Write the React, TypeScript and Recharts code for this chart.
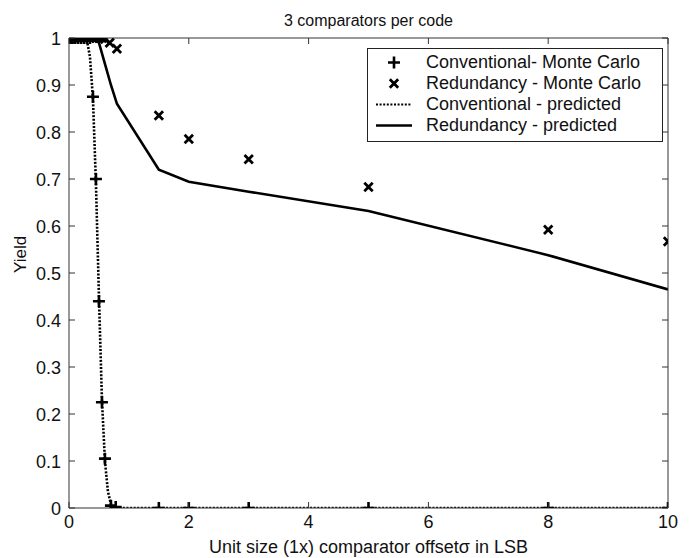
import React from 'react';
import { ComposedChart, Line, Scatter, XAxis, YAxis } from 'recharts';

const titleText = '3 comparators per code';
const xLabelText = 'Unit size (1x) comparator offsetσ in LSB';
const yLabelText = 'Yield';

const xTicks = [0, 2, 4, 6, 8, 10];
const yTicks = [0, 0.1, 0.2, 0.3, 0.4, 0.5, 0.6, 0.7, 0.8, 0.9, 1];

const convMcSigma = [0.03, 0.06, 0.1, 0.15, 0.2, 0.25, 0.3, 0.35, 0.4, 0.45, 0.5, 0.55, 0.6, 0.7, 0.78, 1.5, 2, 3, 5, 8, 10];
const convMcYield = [1, 1, 1, 1, 1, 1, 1, 1, 0.875, 0.7, 0.44, 0.225, 0.105, 0.005, 0.002, 0, 0, 0, 0, 0, 0];

const redMcSigma = [0.03, 0.06, 0.1, 0.15, 0.2, 0.25, 0.3, 0.35, 0.4, 0.45, 0.5, 0.55, 0.6, 0.68, 0.8, 1.5, 2, 3, 5, 8, 10];
const redMcYield = [1, 1, 1, 1, 1, 1, 1, 1, 1, 1, 1, 1, 0.998, 0.99, 0.977, 0.835, 0.785, 0.742, 0.683, 0.592, 0.567];

const convPredSigma = [0, 0.1, 0.2, 0.3, 0.35, 0.4, 0.45, 0.5, 0.55, 0.6, 0.65, 0.7, 0.75, 0.8, 1, 2, 3, 5, 8, 10];
const convPredYield = [1, 1, 1, 0.995, 0.96, 0.87, 0.69, 0.45, 0.23, 0.1, 0.035, 0.008, 0.001, 0, 0, 0, 0, 0, 0, 0];

const redPredSigma = [0, 0.2, 0.4, 0.5, 0.6, 0.7, 0.8, 1.5, 2, 3, 5, 8, 10];
const redPredYield = [1, 1, 1, 0.99, 0.945, 0.9, 0.86, 0.72, 0.694, 0.673, 0.632, 0.538, 0.465];

const legendLabels = [
  'Conventional- Monte Carlo',
  'Redundancy - Monte Carlo',
  'Conventional - predicted',
  'Redundancy - predicted',
];

const zip = (xs: number[], ys: number[]) => xs.map((x, i) => ({ x, y: ys[i] }));
const convMc = zip(convMcSigma, convMcYield);
const redMc = zip(redMcSigma, redMcYield);
const convPred = zip(convPredSigma, convPredYield);
const redPred = zip(redPredSigma, redPredYield);

const FONT = 'Arial, "Liberation Sans", Helvetica, sans-serif';
const TICK = 6;

const PlusShape = (props: any) => {
  const { cx, cy } = props;
  if (cx == null || cy == null) return null;
  return (
    <path d={`M${cx - 6},${cy}H${cx + 6}M${cx},${cy - 6}V${cy + 6}`} stroke="#000" strokeWidth={2.6} fill="none" />
  );
};

const CrossShape = (props: any) => {
  const { cx, cy } = props;
  if (cx == null || cy == null) return null;
  const s = 4.2;
  return (
    <path d={`M${cx - s},${cy - s}L${cx + s},${cy + s}M${cx - s},${cy + s}L${cx + s},${cy - s}`} stroke="#000" strokeWidth={2.8} fill="none" />
  );
};

const NoShape = () => <g />;

const BottomTick = (props: any) => {
  const { x, y, payload } = props;
  return (
    <g>
      <line x1={x} x2={x} y1={y} y2={y - TICK} stroke="#333" strokeWidth={1} />
      <text x={x} y={y + 20} textAnchor="middle" fontFamily={FONT} fontSize={18} fill="#111">{payload.value}</text>
    </g>
  );
};

const LeftTick = (props: any) => {
  const { x, y, payload } = props;
  return (
    <g>
      <line x1={x} x2={x + TICK} y1={y} y2={y} stroke="#333" strokeWidth={1} />
      <text x={x - 8} y={y + 6.5} textAnchor="end" fontFamily={FONT} fontSize={18} fill="#111">{payload.value}</text>
    </g>
  );
};

const TopTick = (props: any) => {
  const { x, y } = props;
  return <line x1={x} x2={x} y1={y} y2={y + TICK} stroke="#333" strokeWidth={1} />;
};

const RightTick = (props: any) => {
  const { x, y } = props;
  return <line x1={x} x2={x - TICK} y1={y} y2={y} stroke="#333" strokeWidth={1} />;
};

const LegendBox = () => (
  <div
    style={{
      position: 'absolute',
      left: 367,
      top: 48,
      width: 296,
      background: '#fff',
      border: '1px solid #222',
      padding: '3px 0 5px 0',
      fontFamily: FONT,
      fontSize: 18,
      color: '#111',
      boxSizing: 'border-box',
    }}
  >
    {legendLabels.map((label, i) => (
      <div key={label} style={{ display: 'flex', alignItems: 'center', height: 21 }}>
        <svg width={52} height={21} style={{ flex: 'none' }}>
          {i === 0 && <PlusShape cx={26} cy={10.5} />}
          {i === 1 && <CrossShape cx={26} cy={10.5} />}
          {i === 2 && <line x1={8} x2={44} y1={10.5} y2={10.5} stroke="#000" strokeWidth={2} strokeDasharray="2 1.6" />}
          {i === 3 && <line x1={8} x2={44} y1={10.5} y2={10.5} stroke="#000" strokeWidth={2.5} />}
        </svg>
        <span style={{ marginLeft: 6, whiteSpace: 'nowrap' }}>{label}</span>
      </div>
    ))}
  </div>
);

export default function App() {
  return (
    <div style={{ position: 'absolute', left: 0, top: 0, width: 691, height: 558, background: '#fff' }}>
      <ComposedChart width={691} height={558} margin={{ top: 37, right: 22, bottom: 0, left: 0 }}>
        <XAxis
          xAxisId="b"
          dataKey="x"
          type="number"
          domain={[0, 10]}
          ticks={xTicks}
          interval={0}
          height={50}
          tickSize={0}
          tickMargin={0}
          tickLine={false}
          axisLine={{ stroke: '#333', strokeWidth: 1 }}
          tick={<BottomTick />}
          allowDataOverflow
          label={{ value: xLabelText, position: 'insideBottom', offset: 5, fontFamily: FONT, fontSize: 18, fill: '#111' }}
        />
        <XAxis
          xAxisId="t"
          orientation="top"
          dataKey="x"
          type="number"
          domain={[0, 10]}
          ticks={xTicks}
          interval={0}
          height={1}
          tickSize={0}
          tickMargin={0}
          tickLine={false}
          axisLine={{ stroke: '#333', strokeWidth: 1 }}
          tick={<TopTick />}
          allowDataOverflow
        />
        <YAxis
          yAxisId="l"
          type="number"
          domain={[0, 1]}
          ticks={yTicks}
          interval={0}
          width={69}
          tickSize={0}
          tickMargin={0}
          tickLine={false}
          axisLine={{ stroke: '#333', strokeWidth: 1 }}
          tick={<LeftTick />}
          allowDataOverflow
          label={{ value: yLabelText, angle: -90, position: 'insideLeft', offset: 20, fontFamily: FONT, fontSize: 17, fill: '#111' }}
        />
        <YAxis
          yAxisId="r"
          orientation="right"
          type="number"
          domain={[0, 1]}
          ticks={yTicks}
          interval={0}
          width={1}
          tickSize={0}
          tickMargin={0}
          tickLine={false}
          axisLine={{ stroke: '#333', strokeWidth: 1 }}
          tick={<RightTick />}
          allowDataOverflow
        />
        <Line
          xAxisId="b"
          yAxisId="l"
          data={convPred}
          dataKey="y"
          type="linear"
          stroke="#000"
          strokeWidth={2.6}
          strokeDasharray="2 1.6"
          dot={false}
          activeDot={false}
          isAnimationActive={false}
        />
        <Line
          xAxisId="b"
          yAxisId="l"
          data={redPred}
          dataKey="y"
          type="linear"
          stroke="#000"
          strokeWidth={2.6}
          dot={false}
          activeDot={false}
          isAnimationActive={false}
        />
        <Scatter xAxisId="t" yAxisId="r" data={redPred} dataKey="y" shape={<NoShape />} isAnimationActive={false} />
        <Scatter xAxisId="b" yAxisId="l" data={convMc} dataKey="y" shape={<PlusShape />} isAnimationActive={false} />
        <Scatter xAxisId="b" yAxisId="l" data={redMc} dataKey="y" shape={<CrossShape />} isAnimationActive={false} />
      </ComposedChart>
      <div
        style={{
          position: 'absolute',
          left: 69,
          width: 599,
          top: 11,
          textAlign: 'center',
          fontFamily: FONT,
          fontSize: 16,
          lineHeight: '19px',
          color: '#111',
        }}
      >
        {titleText}
      </div>
      <LegendBox />
    </div>
  );
}
